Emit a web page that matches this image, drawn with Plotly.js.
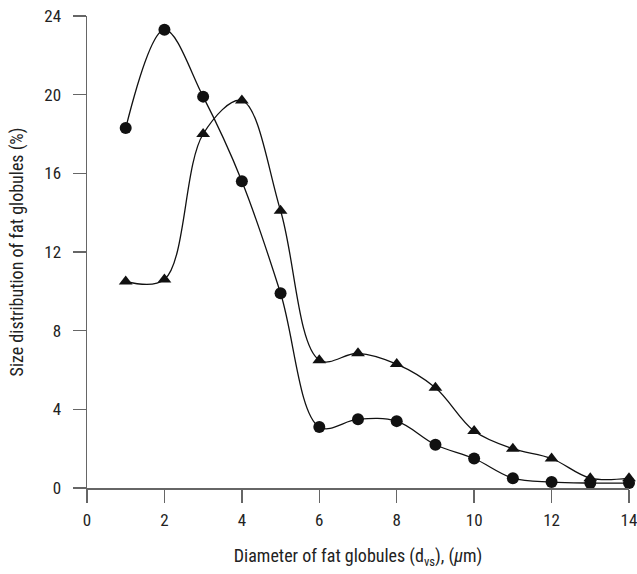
<!DOCTYPE html>
<html><head><meta charset="utf-8">
<script src="https://cdn.plot.ly/plotly-3.0.1.min.js"></script>
<style>html,body{margin:0;padding:0;background:#fff}#plot{width:637px;height:574px}</style>
</head><body><div id="plot"></div>
<script>
const diameters = [1,2,3,4,5,6,7,8,9,10,11,12,13,14];
const circleSeries = [18.3,23.3,19.9,15.6,9.9,3.1,3.5,3.4,2.2,1.5,0.5,0.3,0.25,0.25];
const triangleSeries = [10.5,10.6,18.0,19.7,14.1,6.5,6.85,6.3,5.1,2.9,2.0,1.5,0.5,0.5];
const xTicks = [0,2,4,6,8,10,12,14];
const yTicks = [0,4,8,12,16,20,24];

const font = "'Liberation Sans Narrow','Arial Narrow','Roboto Condensed','Liberation Sans',sans-serif";
const lineStyle = {color:'#111', width:1.3, shape:'spline', smoothing:1};
const traces = [
  {x:diameters, y:triangleSeries, mode:'lines+markers', line:lineStyle,
   marker:{symbol:'triangle-up', size:12, color:'#111'}, cliponaxis:false, showlegend:false},
  {x:diameters, y:circleSeries, mode:'lines+markers', line:lineStyle,
   marker:{symbol:'circle', size:12, color:'#111'}, cliponaxis:false, showlegend:false}
];
const axisCommon = {showline:true, linecolor:'#666', linewidth:1.5, ticks:'outside', ticklen:13,
  tickcolor:'#666', tickwidth:1.5, showgrid:false, zeroline:false, ticklabeloverflow:'allow',
  tickfont:{family:font, size:17, color:'#222'}};
const layout = {
  width:637, height:574, paper_bgcolor:'#fff', plot_bgcolor:'#fff',
  margin:{l:87, r:8, t:16, b:86},
  font:{family:font, color:'#222'},
  xaxis:Object.assign({}, axisCommon, {range:[0,14], tickvals:xTicks, ticktext:xTicks.map(String), ticklabelstandoff:3,
    title:{text:'Diameter of fat globules (d<sub>vs</sub>), (<i>µ</i>m)', font:{family:font, size:18, color:'#222'}, standoff:20}}),
  yaxis:Object.assign({}, axisCommon, {range:[0,24], tickvals:yTicks, ticktext:yTicks.map(String), ticklabelstandoff:8,
    title:{text:'Size distribution of fat globules (%)', font:{family:font, size:18, color:'#222'}, standoff:16}})
};
Plotly.newPlot('plot', traces, layout, {displayModeBar:false, staticPlot:true});
</script></body></html>
